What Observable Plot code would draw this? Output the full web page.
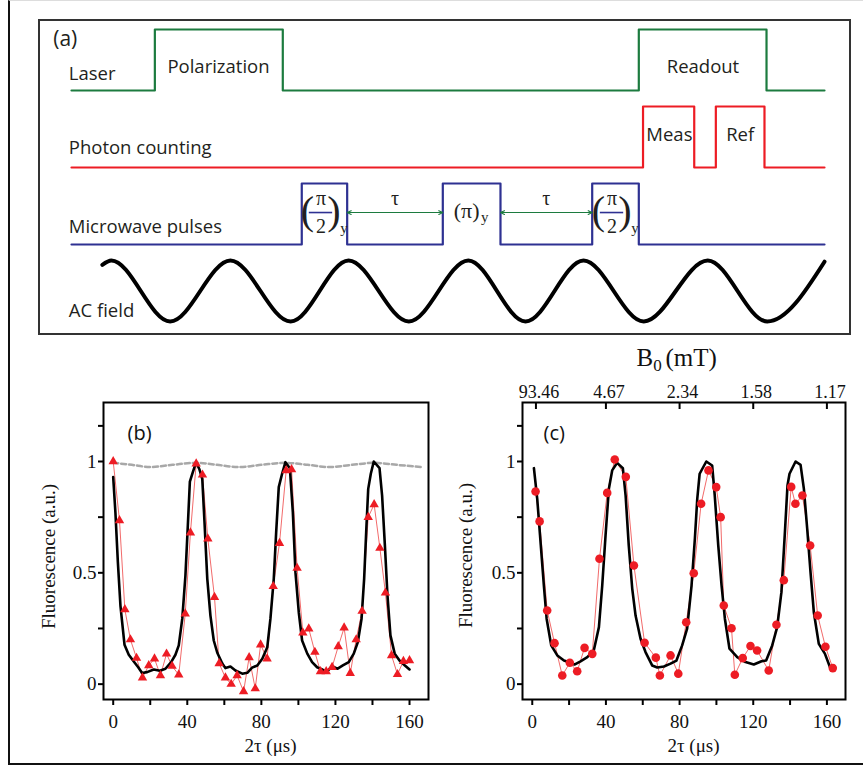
<!DOCTYPE html>
<html><head><meta charset="utf-8">
<script src="https://cdn.jsdelivr.net/npm/d3@7"></script>
<script src="https://cdn.jsdelivr.net/npm/@observablehq/plot@0.6"></script>
<style>
body{margin:0;background:#fff;}
#fig{position:relative;width:863px;height:768px;overflow:hidden;background:#fff;}
#outer{position:absolute;left:8px;top:0;width:860px;height:765px;border-left:2px solid #111;border-bottom:2px solid #111;border-top:1px solid #ddd;box-sizing:border-box;}
#boxA{position:absolute;left:38px;top:19px;width:813px;height:316px;border:2px solid #333;box-sizing:border-box;}
.p{position:absolute;}
</style></head>
<body><div id="fig"><div id="outer"></div><div id="boxA"></div>
<div class="p" id="pa" style="left:0;top:0"></div>
<div class="p" id="pb" style="left:0;top:340px"></div>
<div class="p" id="pc" style="left:430px;top:340px"></div>
</div>
<script>
// ---------- Panel (a): timing diagram (schematic time units 0..100) ----------
const channels = ["laser", "photon", "mw", "ac"];
const laserOn = [11.07, 75.34], laserOff = [28.06, 92.3];
const photonOn = [75.9, 85.57], photonOff = [82.7, 92.03];
const mwOn = [30.58, 49.31, 69.15], mwOff = [36.61, 56.97, 75.34];
const acT = [4.1, 5.3, 13.1, 21.1, 29.1, 36.8, 44.8, 52.7, 60.3, 68.0, 76.0, 84.5, 92.4, 100];
const acV = [0.93, 1, 0, 1, 0, 1, 0, 1, 0, 1, 0, 1, 0, 0.98];
const labelsStart = [
  {ch: "laser", t: -2.43, v: 0.843, s: "(a)", f: 21},
  {ch: "laser", t: -0.36, v: 0.273, s: "Laser", f: 18.5},
  {ch: "photon", t: -0.36, v: 0.32, s: "Photon counting", f: 18.5},
  {ch: "mw", t: -0.36, v: 0.293, s: "Microwave pulses", f: 18.5},
  {ch: "ac", t: -0.36, v: 0.167, s: "AC field", f: 18.5}
];
const labelsMid = [
  {ch: "laser", t: 19.52, v: 0.38, s: "Polarization"},
  {ch: "laser", t: 83.86, v: 0.38, s: "Readout"},
  {ch: "photon", t: 79.4, v: 0.53, s: "Meas"},
  {ch: "photon", t: 88.8, v: 0.53, s: "Ref"}
];

// ---------- Panel (b) ----------
const bX = [0,3.4,6.3,9.3,12.6,15.8,19.2,22.3,25.5,28.8,31.8,35.4,38.9,41.7,44.8,48.2,51.1,54.7,57.2,60.6,63.7,66.9,70.4,73.4,76.7,79.6,83.1,86.4,89.8,93.4,96.3,99.3,102.4,105.6,108.9,111.9,115,118.2,121.5,124.7,128,131.2,134.4,137.7,140.9,144,147,150.3,153.5,156.7,160];
const bY = [1.0,0.735,0.335,0.20,0.117,0.029,0.084,0.114,0.039,0.136,0.081,0.042,0.316,0.68,0.99,0.94,0.653,0.39,0.093,0.029,0.0,0.039,-0.033,0.12,-0.02,0.177,0.114,0.439,0.633,0.96,0.964,0.521,0.231,0.249,0.144,0.057,0.057,0.076,0.169,0.253,0.049,0.20,0.328,0.75,0.807,0.611,0.41,0.129,0.044,0.103,0.106];
const bFitX = [0,1.2,2.5,3.9,6.1,8.4,11.1,13.5,15.6,18.3,21.9,25.2,28.2,31.3,33.6,35.4,37.3,39,40.3,41.4,43,44.8,46.6,48.1,49.3,50.8,52.5,54.3,56.2,58.9,60.6,63.3,66,69.7,72.4,75,77.8,80.5,83.2,84.9,86.7,88,89.4,91.2,93,95.4,97,98.4,100.2,102,104.8,107.4,110.1,112.8,115.2,118.2,121,124,127.2,129.9,132.1,134.1,135.5,136.6,137.7,139.1,140.7,143.8,145.2,146.7,148.1,149.7,152,154.6,157.5,160];
const bFitY = [0.93,0.77,0.55,0.353,0.177,0.132,0.102,0.076,0.05,0.054,0.066,0.06,0.069,0.099,0.132,0.174,0.294,0.488,0.713,0.91,0.952,0.997,0.964,0.922,0.727,0.473,0.308,0.196,0.141,0.093,0.072,0.079,0.061,0.047,0.051,0.074,0.084,0.114,0.166,0.294,0.473,0.683,0.885,0.945,0.997,0.97,0.772,0.503,0.323,0.196,0.137,0.099,0.076,0.066,0.054,0.081,0.069,0.084,0.099,0.137,0.189,0.294,0.473,0.683,0.877,0.945,1.0,0.97,0.847,0.623,0.398,0.219,0.137,0.106,0.084,0.066];
const bRefX = [0,10,20,32,45,56,68,80,93,105,117,129,141,153,166];
const bRefY = [0.994,0.985,0.975,0.985,0.994,0.985,0.975,0.985,0.994,0.985,0.975,0.985,0.994,0.985,0.975];

// ---------- Panel (c) ----------
const cX = [1.8,4,8.1,12.1,16.3,20.4,24.4,28.4,32.6,36.5,40.7,44.8,50.8,55.2,61,67.1,69.3,75.1,79.3,83.6,87.7,91.7,95.7,99.9,102.3,104,108.2,110,114.3,118.5,122.1,128.4,132.6,136.6,140.6,142.9,146.7,150.9,155,159.2,163.2];
const cY = [0.865,0.731,0.331,0.184,0.039,0.096,0.058,0.163,0.136,0.563,0.859,1.009,0.931,0.533,0.186,0.119,0.039,0.129,0.047,0.278,0.498,0.81,0.96,0.885,0.75,0.353,0.251,0.042,0.117,0.171,0.151,0.061,0.267,0.467,0.886,0.81,0.847,0.623,0.308,0.168,0.072];
const cFitX = [0.9,2.7,4.5,6.3,7.8,10.3,13.6,17.2,20.8,22.9,26.2,29.9,33.4,36.2,38,39.8,41.6,43.4,46.1,49.2,50.7,52.4,54.3,56.1,58.8,61.5,65.1,67.9,71.5,75.1,78.3,81.4,84.1,86.5,88.3,89.6,90.9,94.5,97.7,99.1,101,102.8,104.6,107.1,111.3,115.8,120.3,124.5,127,130.3,133,135.3,137.1,138.6,139.7,143,145.7,147.5,149.3,151.1,152.9,155.6,158.9,162];
const cFitY = [0.97,0.832,0.638,0.443,0.294,0.174,0.129,0.106,0.096,0.088,0.102,0.121,0.151,0.256,0.443,0.668,0.877,0.96,0.994,0.97,0.847,0.623,0.428,0.308,0.204,0.144,0.084,0.075,0.079,0.092,0.106,0.174,0.249,0.443,0.653,0.832,0.945,1.0,0.982,0.847,0.623,0.443,0.294,0.159,0.121,0.099,0.088,0.103,0.106,0.174,0.256,0.413,0.668,0.892,0.945,1.0,0.985,0.877,0.698,0.503,0.323,0.181,0.137,0.069];
const b0Pos = [2, 40, 80, 120, 160];
const b0Lab = ["93.46", "4.67", "2.34", "1.58", "1.17"];

// ---------- shared ticks ----------
const xMinor = [0,20,40,60,80,100,120,140,160];
const xMajor = [0,40,80,120,160];
const yMinor = [0,0.25,0.5,0.75,1,1.16];
const yMajor = [0,0.5,1];
const yMajorLab = ["0","0.5","1"];

const SERIF = "Liberation Serif, Times New Roman, Times, serif";
const SANS = "Open Sans, Noto Sans, sans-serif";
const GREEN = "#1c7b3f", RED = "#ed1c24", BLUE = "#2e3192", INK = "#231f20";

function steps(ch, on, off) {
  const r = [{ch, t: 0, v: 0}];
  on.forEach((t, i) => { r.push({ch, t, v: 1}); r.push({ch, t: off[i], v: 0}); });
  r.push({ch, t: 100, v: 0});
  return r;
}
const acRows = acT.map((t, i) => ({ch: "ac", t, v: acV[i]}));
const pulseCenters = mwOn.map((t, i) => (t + mwOff[i]) / 2);
const fracAt = (v) => [0, 2].map(i => ({ch: "mw", t: pulseCenters[i], v}));
const piAt = (v) => [{ch: "mw", t: pulseCenters[1], v}];
const gaps = [0, 1].map(i => ({ch: "mw", a: mwOff[i], b: mwOn[i + 1], v: 0.524, m: (mwOff[i] + mwOn[i + 1]) / 2}));
const halfArrows = gaps.flatMap(g => [{ch: g.ch, from: g.m, to: g.a, v: g.v}, {ch: g.ch, from: g.m, to: g.b, v: g.v}]);

const pa = Plot.plot({
  width: 863, height: 340, marginLeft: 71, marginRight: 39, marginTop: 28, marginBottom: 19,
  x: {domain: [0, 100], axis: null},
  y: {domain: [0, 1], axis: null},
  fy: {domain: channels, paddingInner: 0.21, paddingOuter: 0, axis: null},
  style: {background: "transparent", overflow: "visible"},
  marks: [
    Plot.line(steps("laser", laserOn, laserOff), {x: "t", y: "v", fy: "ch", curve: "step-after", stroke: GREEN, strokeWidth: 2.2}),
    Plot.line(steps("photon", photonOn, photonOff), {x: "t", y: "v", fy: "ch", curve: "step-after", stroke: RED, strokeWidth: 2.2}),
    Plot.line(steps("mw", mwOn, mwOff), {x: "t", y: "v", fy: "ch", curve: "step-after", stroke: BLUE, strokeWidth: 2.2}),
    Plot.line(acRows, {x: "t", y: "v", fy: "ch", curve: "monotone-x", stroke: "#000", strokeWidth: 4, strokeLinecap: "round"}),
    Plot.arrow(halfArrows, {x1: "from", x2: "to", y1: "v", y2: "v", fy: "ch", stroke: GREEN, strokeWidth: 1.1, headLength: 6, headAngle: 50}),
    Plot.text(gaps, {x: "m", y: () => 0.745, fy: "ch", text: () => "τ", fontFamily: SERIF, fontSize: 20, fill: INK}),
    Plot.text(labelsStart, {x: "t", y: "v", fy: "ch", text: "s", fontSize: "f", fontFamily: SANS, textAnchor: "start", fill: INK}),
    Plot.text(labelsMid, {x: "t", y: "v", fy: "ch", text: "s", fontSize: 18.5, fontFamily: SANS, textAnchor: "middle", fill: INK}),
    // (pi/2)_y labels in the first and last pulse
    Plot.text(fracAt(0.55), {x: "t", y: "v", fy: "ch", text: () => "(", dx: -17, fontFamily: SERIF, fontSize: 40, fill: INK}),
    Plot.text(fracAt(0.55), {x: "t", y: "v", fy: "ch", text: () => ")", dx: 9.5, fontFamily: SERIF, fontSize: 40, fill: INK}),
    Plot.text(fracAt(0.745), {x: "t", y: "v", fy: "ch", text: () => "π", dx: -3.5, fontFamily: SERIF, fontSize: 20, fill: INK}),
    Plot.ruleY(fracAt(0.524), {x1: d => d.t - 1.55, x2: d => d.t + 1.55, y: "v", fy: "ch", dx: -3.5, stroke: BLUE, strokeWidth: 1.6}),
    Plot.text(fracAt(0.30), {x: "t", y: "v", fy: "ch", text: () => "2", dx: -3.5, fontFamily: SERIF, fontSize: 20, fill: INK}),
    Plot.text(fracAt(0.27), {x: "t", y: "v", fy: "ch", text: () => "y", dx: 19.5, fontFamily: SERIF, fontSize: 15, fill: INK}),
    // (pi)_y in middle pulse
    Plot.text(piAt(0.557), {x: "t", y: "v", fy: "ch", text: () => "(π)", dx: -5, fontFamily: SERIF, fontSize: 22, fill: INK}),
    Plot.text(piAt(0.44), {x: "t", y: "v", fy: "ch", text: () => "y", dx: 13, fontFamily: SERIF, fontSize: 15, fill: INK})
  ]
});
document.getElementById("pa").appendChild(pa);

const yDom = [-0.069, 1.265];
const T = {fontFamily: SERIF, fontSize: 19, fill: "#111"};
function panel(o) {
  const pts = o.px.map((x, i) => ({x, y: o.py[i]}));
  const fit = o.fxs.map((x, i) => ({x, y: o.fys[i]}));
  return Plot.plot({
    width: o.width, height: 428, marginLeft: o.mL, marginRight: o.mR, marginTop: 62, marginBottom: 69,
    x: {domain: o.xDom}, y: {domain: yDom},
    style: {background: "transparent", overflow: "visible"},
    marks: [
      ...(o.pre || []),
      Plot.line(pts, {x: "x", y: "y", stroke: "#f26b6b", strokeWidth: 1}),
      Plot.line(fit, {x: "x", y: "y", stroke: "#000", strokeWidth: 2.6, strokeLinejoin: "round"}),
      Plot.dot(pts, {x: "x", y: "y", symbol: o.sym, r: o.r, fill: RED}),
      Plot.frame({stroke: "#000", strokeWidth: 2}),
      Plot.axisX({ticks: xMinor, tickSize: 6, tickFormat: () => "", label: null, stroke: "#000", strokeWidth: 2}),
      Plot.text(xMajor, {...T, x: d => d, frameAnchor: "bottom", dy: 22, lineAnchor: "middle", textAnchor: "middle", text: d => String(d)}),
      Plot.axisY({ticks: yMinor, tickSize: 5, tickFormat: () => "", label: null, stroke: "#000", strokeWidth: 2}),
      Plot.text(yMajor, {...T, y: d => d, frameAnchor: "left", dx: -7, textAnchor: "end", lineAnchor: "middle", text: (d, i) => yMajorLab[i]}),
      Plot.text([o.label], {frameAnchor: "top-left", dx: o.labelDx, dy: 31, textAnchor: "start", lineAnchor: "middle", fontFamily: SANS, fontSize: 20, fill: "#111"}),
      Plot.text(["Fluorescence (a.u.)"], {...T, frameAnchor: "left", rotate: -90, dx: o.ylDx, dy: o.ylDy, textAnchor: "middle", lineAnchor: "middle"}),
      Plot.text(["2τ (μs)"], {...T, frameAnchor: "bottom", dx: o.xlDx, dy: 46, textAnchor: "middle", lineAnchor: "middle"}),
      ...(o.post || [])
    ]
  });
}

const bRef = bRefX.map((x, i) => ({x, y: bRefY[i]}));
document.getElementById("pb").appendChild(panel({
  width: 430, mL: 103, mR: 2, xDom: [-5.24, 170.25],
  px: bX, py: bY, fxs: bFitX, fys: bFitY, sym: "triangle", r: 3.5,
  label: "(b)", labelDx: 24, ylDx: -55, ylDy: 5.5, xlDx: 4.5,
  pre: [Plot.line(bRef, {x: "x", y: "y", stroke: "#a8a8a8", strokeWidth: 2.5, strokeDasharray: "5,3", curve: "monotone-x"})]
}));

document.getElementById("pc").appendChild(panel({
  width: 433, mL: 92, mR: 18, xDom: [-5.3, 170.1],
  px: cX, py: cY, fxs: cFitX, fys: cFitY, sym: "circle", r: 4.3,
  label: "(c)", labelDx: 21, ylDx: -57, ylDy: 4.5, xlDx: 9.5,
  post: [
    Plot.ruleX(b0Pos, {x: d => d, insetBottom: 290, stroke: "#000", strokeWidth: 2}),
    Plot.text(b0Pos, {...T, fontSize: 18, x: d => d, text: (d, i) => b0Lab[i], frameAnchor: "top", lineAnchor: "middle", dy: -10, dx: 3}),
    Plot.text(["B"], {...T, fontSize: 25, frameAnchor: "top", dx: -47.5, dy: -45, textAnchor: "start", lineAnchor: "middle"}),
    Plot.text(["0"], {...T, fontSize: 17, frameAnchor: "top", dx: -30.8, dy: -37.4, textAnchor: "start", lineAnchor: "middle"}),
    Plot.text(["(mT)"], {...T, fontSize: 25, frameAnchor: "top", dx: -18.5, dy: -45, textAnchor: "start", lineAnchor: "middle"})
  ]
}));
</script></body></html>
